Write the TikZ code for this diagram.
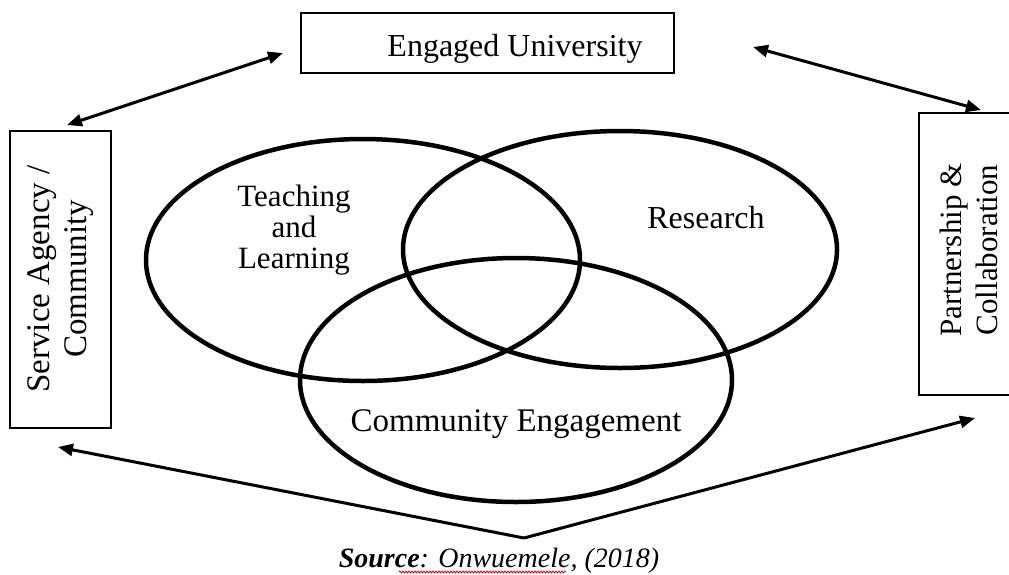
\documentclass[tikz,border=0pt]{standalone}
\usepackage{fontspec}
\setmainfont{Liberation Serif}
\usetikzlibrary{arrows.meta,shapes.geometric,decorations.pathmorphing}

\begin{document}
\begin{tikzpicture}[x=1pt,y=-1pt,
  lbl/.style={font=\fontsize{32}{36}\selectfont, inner sep=0pt, align=center},
  frame/.style={draw, line width=2pt, inner sep=0pt},
  ring/.style={draw, ellipse, line width=4.5pt, inner sep=0pt},
  tip/.tip={Triangle[length=15pt,width=12pt]},
  link/.style={line width=3pt, -tip},
  twoway/.style={line width=3pt, tip-tip}
]
\useasboundingbox (0,0) rectangle (1009,574);

% outer boxes
\node[frame, minimum width=373pt, minimum height=60pt] (uni) at (487.5,43) {};
\node[frame, minimum width=101pt, minimum height=297pt] (svc) at (60.5,279.5) {};
\node[frame, minimum width=97pt, minimum height=282pt] (part) at (967.5,254) {};

\node[lbl, anchor=base] (unit) at (515,56.7) {Engaged University};
\node[lbl, rotate=90, font=\fontsize{33}{37}\selectfont] (svct) at (61,279) {Service Agency /\\Community};
\node[lbl, rotate=90, font=\fontsize{31}{36}\selectfont] (partt) at (969,250) {Partnership \&\\Collaboration};

% the three overlapping circles
\node[ring, minimum width=434pt, minimum height=242pt] (tl) at (363,260) {};
\node[ring, minimum width=434pt, minimum height=237pt] (res) at (620,249.5) {};
\node[ring, minimum width=432pt, minimum height=244pt] (ce) at (516,380) {};

\node[lbl, font=\fontsize{31}{31}\selectfont] (tlt) at (294,230.5) {Teaching\\and\\Learning};
\node[lbl, anchor=base] (rest) at (706,228.3) {Research};
\node[lbl, anchor=base, font=\fontsize{33}{36}\selectfont] (cet) at (516,431.7) {Community Engagement};

% connectors
\coordinate (uniW) at (283,53);
\coordinate (svcN) at (67,125);
\coordinate (uniE) at (753,47);
\coordinate (partN) at (981,110);
\coordinate (apex) at (524,538);
\coordinate (svcS) at (58,447);
\coordinate (partS) at (975,418);

\draw[twoway] (uniW) -- (svcN);
\draw[twoway] (uniE) -- (partN);
\draw[link] (apex) -- (svcS);
\draw[link] (apex) -- (partS);

% source line
\node[inner sep=0pt, anchor=base, font=\fontsize{28}{30}\selectfont] (src) at (499,567)
  {\textbf{\textit{Source}}\textit{: Onwuemele, (2018)}};
\draw[red!80!black, line width=0.8pt, decorate, decoration={snake, amplitude=1pt, segment length=3pt}]
  (399,572) -- (566,572);
\end{tikzpicture}
\end{document}
